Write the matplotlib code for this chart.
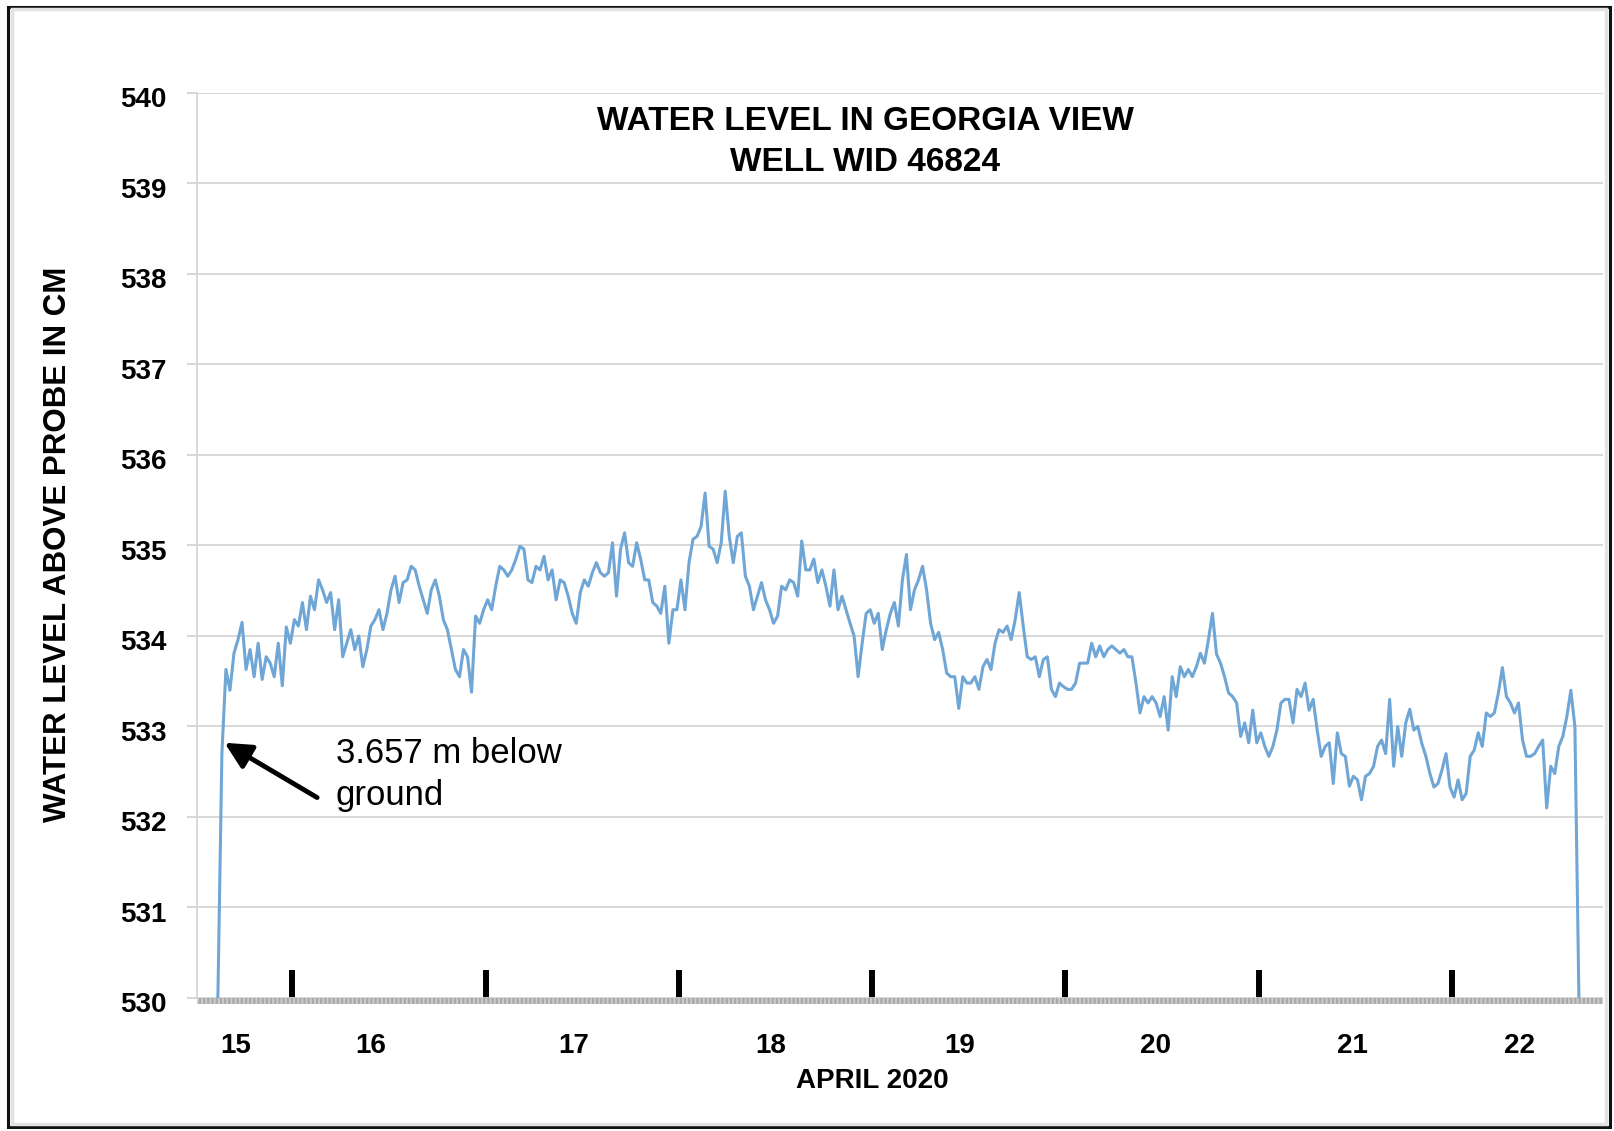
import numpy as np
import matplotlib.pyplot as plt
import matplotlib.transforms as mtransforms
from matplotlib.patches import Rectangle

# Water level above probe (cm), logger readings every 30 minutes
apr15 = [530.0, 532.7, 533.63, 533.4, 533.81, 533.96, 534.15, 533.63, 533.85, 533.55,
         533.92, 533.52, 533.77, 533.70, 533.55, 533.92, 533.45, 534.1, 533.92]
apr16 = [534.18, 534.11, 534.37, 534.07, 534.44, 534.29, 534.62, 534.51, 534.37, 534.48,
         534.07, 534.40, 533.77, 533.92, 534.07, 533.85, 534.0, 533.66, 533.85, 534.11,
         534.18, 534.29, 534.07, 534.25, 534.51, 534.66, 534.37, 534.59, 534.62, 534.77,
         534.73, 534.55, 534.40, 534.25, 534.51, 534.62, 534.44, 534.18, 534.07, 533.85,
         533.63, 533.55, 533.85, 533.77, 533.38, 534.22, 534.14, 534.29]
apr17 = [534.40, 534.29, 534.55, 534.77, 534.73, 534.66, 534.73, 534.85, 534.99, 534.96,
         534.62, 534.59, 534.77, 534.73, 534.88, 534.62, 534.73, 534.40, 534.62, 534.59,
         534.44, 534.25, 534.14, 534.48, 534.62, 534.55, 534.70, 534.81, 534.70, 534.66,
         534.70, 535.03, 534.44, 534.96, 535.14, 534.81, 534.77, 535.03, 534.85, 534.62,
         534.62, 534.37, 534.33, 534.25, 534.55, 533.92, 534.29, 534.29]
apr18 = [534.62, 534.29, 534.81, 535.07, 535.10, 535.21, 535.58, 534.99, 534.96, 534.81,
         535.03, 535.6, 535.1, 534.81, 535.10, 535.14, 534.66, 534.55, 534.29, 534.44,
         534.59, 534.40, 534.29, 534.14, 534.22, 534.55, 534.51, 534.62, 534.59, 534.44,
         535.05, 534.73, 534.73, 534.85, 534.59, 534.73, 534.55, 534.33, 534.73, 534.29,
         534.44, 534.29, 534.14, 534.0, 533.55, 533.92, 534.25, 534.29]
apr19 = [534.14, 534.25, 533.85, 534.07, 534.25, 534.37, 534.11, 534.62, 534.9, 534.29,
         534.51, 534.62, 534.77, 534.51, 534.14, 533.96, 534.04, 533.85, 533.59, 533.55,
         533.55, 533.2, 533.55, 533.48, 533.48, 533.55, 533.41, 533.66, 533.74, 533.63,
         533.92, 534.07, 534.04, 534.11, 533.96, 534.18, 534.48, 534.11, 533.77, 533.74,
         533.77, 533.55, 533.74, 533.77, 533.41, 533.33, 533.48, 533.44]
apr20 = [533.41, 533.41, 533.48, 533.70, 533.70, 533.70, 533.92, 533.77, 533.89, 533.77,
         533.85, 533.89, 533.85, 533.81, 533.85, 533.77, 533.77, 533.48, 533.15, 533.33,
         533.26, 533.33, 533.26, 533.11, 533.33, 532.96, 533.55, 533.33, 533.66, 533.55,
         533.63, 533.55, 533.66, 533.81, 533.70, 533.96, 534.25, 533.80, 533.70, 533.55,
         533.37, 533.33, 533.26, 532.89, 533.04, 532.82, 533.18, 532.82]
apr21 = [532.93, 532.78, 532.67, 532.78, 532.96, 533.26, 533.30, 533.30, 533.04, 533.41,
         533.33, 533.48, 533.18, 533.30, 532.96, 532.67, 532.78, 532.82, 532.37, 532.93,
         532.70, 532.67, 532.34, 532.45, 532.41, 532.19, 532.45, 532.48, 532.56, 532.78,
         532.85, 532.70, 533.30, 532.56, 533.0, 532.67, 533.04, 533.19, 532.96, 533.0,
         532.81, 532.67, 532.48, 532.33, 532.37, 532.52, 532.70, 532.33]
apr22 = [532.22, 532.41, 532.19, 532.26, 532.67, 532.74, 532.93, 532.78, 533.15, 533.11,
         533.15, 533.37, 533.65, 533.33, 533.26, 533.15, 533.26, 532.85, 532.67, 532.67,
         532.70, 532.78, 532.85, 532.1, 532.56, 532.48, 532.78, 532.89, 533.11, 533.4,
         533.0, 530.0]

days = [15, 16, 17, 18, 19, 20, 21, 22]
first_reading_hour = [14.75, 0.25, 0.25, 0.25, 0.25, 0.25, 0.25, 0.25]
day_series = [apr15, apr16, apr17, apr18, apr19, apr20, apr21, apr22]

day_labels = ['15', '16', '17', '18', '19', '20', '21', '22']
y_ticks = list(range(530, 541))

# build time axis (fractional April day)
t = []
level = []
for d, h0, vals in zip(days, first_reading_hour, day_series):
    for k, v in enumerate(vals):
        t.append(d + (h0 + 0.5 * k) / 24.0)
        level.append(v)

plt.rcParams['font.family'] = ['Liberation Sans', 'DejaVu Sans']

fig = plt.figure(figsize=(16.14, 11.31), dpi=100)
ax = fig.add_axes([0.1221, 0.1176, 0.8711, 0.8002])

ax.plot(t, level, color='#6fa6d6', lw=2.2, zorder=3)

ax.set_xlim(15.507, 22.781)
ax.set_ylim(530, 540)

# y axis
ax.set_yticks(y_ticks)
ax.set_yticklabels([str(v) for v in y_ticks], fontsize=20, fontweight='bold')
ax.tick_params(axis='y', length=7.2, width=1.2, color='#cfcfcf', pad=15)
down = mtransforms.ScaledTranslation(0, -3 / 72, fig.dpi_scale_trans)
for lab in ax.get_yticklabels():
    lab.set_transform(lab.get_transform() + down)
ax.yaxis.grid(True, color='#d6d6d6', lw=1.3)
ax.set_axisbelow(True)

# x axis: thick day-boundary marks, labels between them
ax.set_xticks(range(16, 23))
ax.set_xticklabels([])
ax.tick_params(axis='x', which='major', direction='in', length=20, width=4.3,
               color='black')
label_pos = [15.707, 16.405, 17.453, 18.476, 19.450, 20.468, 21.485, 22.348]
ax.set_xticks(label_pos, minor=True)
ax.set_xticklabels(day_labels, minor=True, fontsize=20, fontweight='bold')
ax.tick_params(axis='x', which='minor', length=0, pad=25)

for s in ['top', 'right', 'bottom']:
    ax.spines[s].set_visible(False)
ax.spines['left'].set_color('#d6d6d6')
ax.spines['left'].set_linewidth(1.3)

# grey striped base line
off = mtransforms.ScaledTranslation(0, -2.5 / 72, fig.dpi_scale_trans)
ax.plot([0, 1], [0, 0], transform=ax.transAxes + off, color='#a9a9a9', lw=4.3,
        solid_capstyle='butt', clip_on=False, zorder=1.9)
ax.plot([0, 1], [0, 0], transform=ax.transAxes + off, color='#cdcdcd', lw=4.3,
        dashes=(0.3, 0.4), clip_on=False, zorder=1.95)

# annotation
ax.annotate('', xy=(15.649, 532.82), xytext=(16.128, 532.215),
            arrowprops=dict(arrowstyle='-|>', color='black', lw=3.5,
                            mutation_scale=40, shrinkA=0, shrinkB=0),
            zorder=5)
ax.text(16.2235, 532.47, '3.657 m below\nground', fontsize=25, ha='left',
        va='center', linespacing=1.32, zorder=5)

# titles and labels
fig.text(0.536, 0.8745, 'WATER LEVEL IN GEORGIA VIEW\nWELL WID 46824',
         fontsize=24, fontweight='bold', ha='center', va='center', linespacing=1.4)
fig.text(0.0357, 0.5190, 'WATER LEVEL ABOVE PROBE IN CM', rotation=90,
         fontsize=22.5, fontweight='bold', ha='center', va='center')
fig.text(0.5404, 0.0445, 'APRIL 2020', fontsize=20, fontweight='bold',
         ha='center', va='center')

# outer frame
fig.patches.append(Rectangle((0.0050, 0.0035), 0.9926, 0.9903, transform=fig.transFigure,
                             fill=False, edgecolor='#111111', lw=2.2))
fig.patches.append(Rectangle((0.0072, 0.0060), 0.9880, 0.9858, transform=fig.transFigure,
                             fill=False, edgecolor='#e2e2e2', lw=2.5))

fig.savefig('out.png', dpi=100)
